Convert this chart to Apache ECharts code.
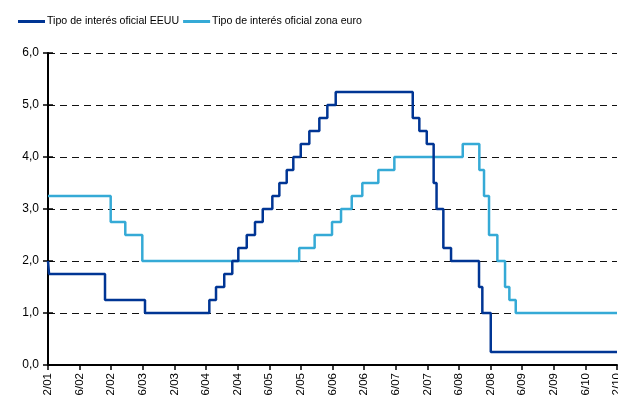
<!DOCTYPE html>
<html>
<head>
<meta charset="utf-8">
<script src="https://cdn.jsdelivr.net/npm/echarts@6/dist/echarts.min.js"></script>
<style>
  html, body { margin: 0; padding: 0; background: #fff; }
  #chart { width: 618px; height: 401px; }
</style>
</head>
<body>
<div id="chart"></div>
<script>
// etiquetas del eje x (una cada 6 meses)
const tickLabels = ['2/01', '6/02', '2/02', '6/03', '2/03', '6/04', '2/04', '6/05', '2/05',
  '6/06', '2/06', '6/07', '2/07', '6/08', '2/08', '6/09', '2/09', '6/10', '2/10']

// meses desde la primera etiqueta en los que cambia el tipo
const usMonths = [0, 0.2, 10.82, 18.41, 30.62, 31.89, 33.45, 34.98, 36.12, 37.72, 39.29, 40.76,
  42.58, 43.91, 45.31, 46.56, 47.97, 49.60, 51.50, 53.02, 54.61, 69.23, 70.48, 71.89,
  73.2, 73.75, 75.04, 76.50, 81.81, 82.44, 84.04, 108]
const usRates = [2.0, 1.75, 1.25, 1.0, 1.25, 1.5, 1.75, 2.0, 2.25, 2.5, 2.75, 3.0,
  3.25, 3.5, 3.75, 4.0, 4.25, 4.5, 4.75, 5.0, 5.25, 4.75, 4.5, 4.25,
  3.5, 3.0, 2.25, 2.0, 1.5, 1.0, 0.25, 0.25]

const euroMonths = [0, 11.90, 14.67, 17.90, 47.68, 50.61, 53.91, 55.62, 57.65, 59.66, 62.70,
  65.74, 78.72, 81.87, 82.76, 83.71, 85.29, 86.75, 87.57, 88.78, 108]
const euroRates = [3.25, 2.75, 2.5, 2.0, 2.25, 2.5, 2.75, 3.0, 3.25, 3.5, 3.75,
  4.0, 4.25, 3.75, 3.25, 2.5, 2.0, 1.5, 1.25, 1.0, 1.0]

const usName = 'Tipo de interés oficial EEUU'
const euroName = 'Tipo de interés oficial zona euro'

const font = "'Liberation Sans', Arial, sans-serif"
const chart = echarts.init(document.getElementById('chart'))

chart.setOption({
  animation: false,
  textStyle: { fontFamily: font },
  legend: {
    left: 13,
    top: 11,
    icon: 'rect',
    itemWidth: 27,
    itemHeight: 3,
    itemGap: 4,
    textStyle: { fontFamily: font, fontSize: 10.6, color: '#000', padding: [0, 0, 0, -3] },
    data: [usName, euroName]
  },
  grid: { left: 48, right: 1, top: 53, bottom: 36, containLabel: false, outerBoundsMode: 'none' },
  xAxis: {
    type: 'value',
    min: 0,
    max: 108,
    interval: 6,
    axisLine: { lineStyle: { color: '#000', width: 2 } },
    axisTick: { length: 5, lineStyle: { color: '#000', width: 1.5 } },
    splitLine: { show: false },
    axisLabel: {
      rotate: 90,
      margin: 8,
      fontSize: 11.5,
      color: '#000',
      fontFamily: font,
      formatter: v => tickLabels[Math.round(v / 6)]
    }
  },
  yAxis: [
    {
      type: 'value',
      min: 0,
      max: 6,
      interval: 1,
      axisLine: { show: true, lineStyle: { color: '#000', width: 2 } },
      axisTick: { show: true, length: 5, lineStyle: { color: '#000', width: 1.5 } },
      splitLine: { lineStyle: { color: '#111', type: [7, 5], width: 1 } },
      axisLabel: {
        margin: 9,
        fontSize: 12,
        color: '#000',
        fontFamily: font,
        formatter: v => v.toFixed(1).replace('.', ',')
      }
    },
    {
      // solo para las marcas que cruzan el eje hacia dentro
      type: 'value',
      position: 'left',
      min: 0,
      max: 6,
      interval: 1,
      axisLine: { show: false },
      axisTick: { show: true, inside: true, length: 5, lineStyle: { color: '#000', width: 1.5 } },
      splitLine: { show: false },
      axisLabel: { show: false }
    }
  ],
  series: [
    {
      name: usName,
      type: 'line',
      step: 'end',
      showSymbol: false,
      color: '#003594',
      lineStyle: { width: 2.5, color: '#003594' },
      data: usMonths.map((m, i) => [m, usRates[i]]),
      z: 3
    },
    {
      name: euroName,
      type: 'line',
      step: 'end',
      showSymbol: false,
      color: '#35AAD6',
      lineStyle: { width: 2.5, color: '#35AAD6' },
      data: euroMonths.map((m, i) => [m, euroRates[i]]),
      z: 2
    }
  ]
})
</script>
</body>
</html>
